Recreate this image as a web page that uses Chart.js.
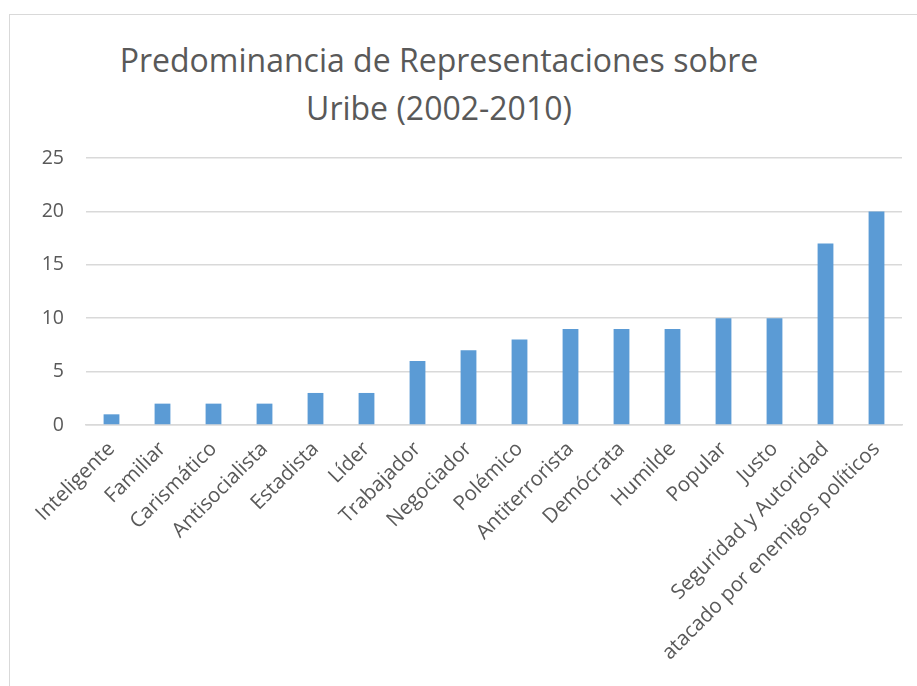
<!DOCTYPE html>
<html>
<head>
<meta charset="utf-8">
<script src="https://cdn.jsdelivr.net/npm/chart.js@4"></script>
<style>
    body { margin: 0; background: #fff; }
    #frame {
        position: absolute; left: 9px; top: 14px; width: 908px; height: 672px;
        border-left: 1.5px solid #d9d9d9; border-top: 1.5px solid #d9d9d9;
        box-sizing: border-box;
    }
    #title {
        position: absolute; left: 0; width: 858px; top: 21px;
        text-align: center; font-family: "Open Sans", sans-serif;
        font-size: 32px; line-height: 48px; color: #595959;
    }
    #chartBox { position: absolute; left: 0; top: 0; width: 908px; height: 672px; }
</style>
</head>
<body>
<div id="frame">
    <div id="title">Predominancia de Representaciones sobre<br>Uribe (2002-2010)</div>
    <div id="chartBox"><canvas id="barChart"></canvas></div>
</div>
<script>
const categories = ['Inteligente', 'Familiar', 'Carismático', 'Antisocialista', 'Estadista', 'Líder',
    'Trabajador', 'Negociador', 'Polémico', 'Antiterrorista', 'Demócrata', 'Humilde', 'Popular',
    'Justo', 'Seguridad y Autoridad', 'atacado por enemigos políticos'];
const counts = [1, 2, 2, 2, 3, 3, 6, 7, 8, 9, 9, 9, 10, 10, 17, 20];
const yTicks = [0, 5, 10, 15, 20, 25];

const ctx = document.getElementById('barChart').getContext('2d');
new Chart(ctx, {
    type: 'bar',
    data: {
        labels: categories,
        datasets: [{
            data: counts,
            backgroundColor: '#5b9bd5',
            categoryPercentage: 1,
            barPercentage: 0.31
        }]
    },
    options: {
        responsive: true,
        maintainAspectRatio: false,
        animation: false,
        layout: { padding: { top: 143, right: 16, left: 0, bottom: 0 } },
        plugins: { legend: { display: false }, tooltip: { enabled: false } },
        scales: {
            x: {
                grid: { display: false },
                border: { color: '#d9d9d9', width: 1.5 },
                ticks: {
                    color: '#595959', font: { family: 'Open Sans', size: 20.5 },
                    maxRotation: 45, minRotation: 45, autoSkip: false, padding: 4
                },
                afterFit: axis => { axis.height = 262; }
            },
            y: {
                min: 0, max: 25,
                afterBuildTicks: axis => { axis.ticks = yTicks.map(v => ({ value: v })); },
                grid: { color: '#d9d9d9', lineWidth: 1.5, drawTicks: false },
                border: { display: false },
                ticks: { color: '#595959', font: { family: 'Open Sans', size: 19.5 }, padding: 22 },
                afterFit: axis => { axis.width = 76; }
            }
        }
    }
});
</script>
</body>
</html>
